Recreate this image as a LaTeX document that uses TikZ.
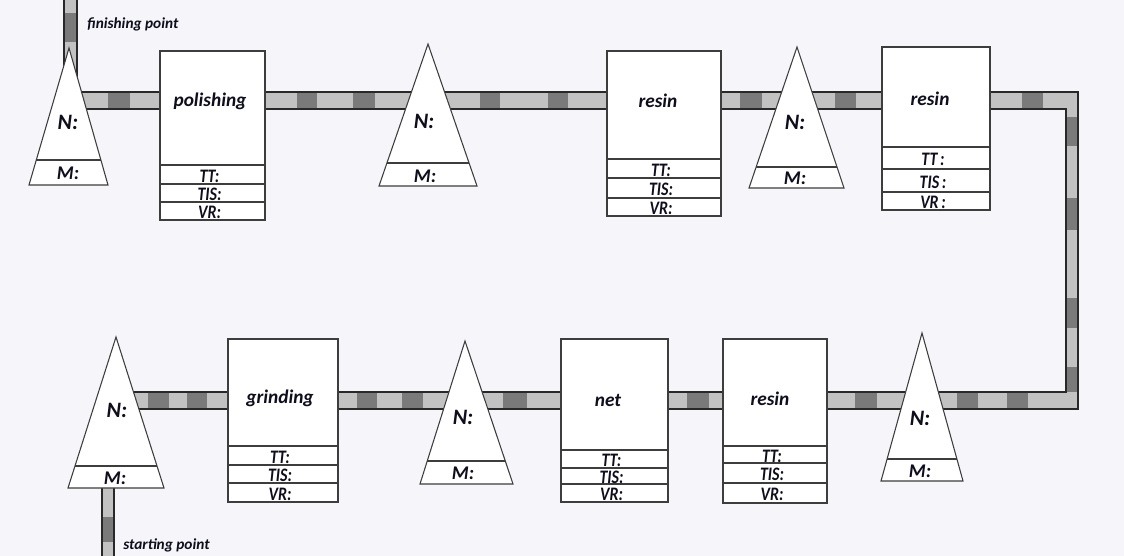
\documentclass[tikz,border=0pt]{standalone}
\usepackage{fontspec}
\setmainfont{Carlito}
\usetikzlibrary{calc}

\definecolor{bgcol}{RGB}{245,245,250}
\definecolor{pipelight}{RGB}{194,194,194}
\definecolor{pipedark}{RGB}{122,122,122}
\definecolor{edgecol}{RGB}{40,40,40}
\definecolor{inkcol}{RGB}{14,14,28}

\tikzset{
  pipeedge/.style={draw=edgecol, line width=0.9pt, line join=miter},
  boxline/.style={draw=edgecol!90, line width=0.8pt},
  cone/.style={draw=edgecol!90, line width=0.8pt, line join=miter},
  conefill/.style={fill=white},
  nlab/.style={text=inkcol, inner sep=0pt, font=\fontsize{16.5}{16.5}\selectfont\bfseries\itshape},
  mlab/.style={text=inkcol, inner sep=0pt, font=\fontsize{14.5}{14.5}\selectfont\bfseries\itshape},
  title/.style={text=inkcol, inner sep=0pt, font=\fontsize{14.5}{14.5}\selectfont\bfseries\itshape},
  rowlab/.style={text=inkcol, inner sep=0pt, text height=9.2pt, text depth=0pt,
    font=\fontsize{13}{13}\selectfont\bfseries\itshape},
  endlab/.style={text=inkcol, inner sep=0pt, anchor=west, font=\fontsize{11.5}{11.5}\selectfont\bfseries\itshape},
}

% vertically stretched lettering used inside the table rows
\newcommand\tallrow[1]{\scalebox{0.92}[1.1]{#1}}
\newcommand\colsep{}

% cone with a band at the bottom: name, apex x, apex y, base left x, base right x, base y, band y
\newcommand\conetri[7]{%
  \pgfmathsetmacro\tf{(#7-#3)/(#6-#3)}%
  \filldraw[cone, conefill] (#2,#3) -- (#5,#6) -- (#4,#6) -- cycle;
  \draw[cone] ($(#2,#3)!\tf!(#4,#6)$) -- ($(#2,#3)!\tf!(#5,#6)$);
}

% stage box with three rows: name, x1, y1, x2, y2, row lines d1, d2, d3
\newcommand\stagebox[8]{%
  \filldraw[boxline, fill=white] (#2,#3) rectangle (#4,#5);
  \draw[boxline] (#2,#6) -- (#4,#6) (#2,#7) -- (#4,#7) (#2,#8) -- (#4,#8);
  \pgfmathsetmacro\cx{(#2+#4)/2-3}%
  \node[rowlab] (#1-tt)  at (\cx,{(#6+#7)/2+1.5}) {\tallrow{TT\colsep:}};
  \node[rowlab] (#1-tis) at (\cx,{(#7+#8)/2+1.5}) {\tallrow{TIS\colsep:}};
  \node[rowlab] (#1-vr)  at (\cx,{(#8+#5)/2+1.5}) {\tallrow{VR\colsep:}};
}

\begin{document}
\begin{tikzpicture}[x=0.75pt, y=-0.75pt]
\useasboundingbox (0,0) rectangle (1124,556);
\fill[bgcol] (0,0) rectangle (1124,556);

% ---------------- conveyor line ----------------
\fill[pipelight] (64,0) -- (64,109) -- (1066,109) -- (1066,392) -- (102,392)
  -- (102,556) -- (114,556) -- (114,409) -- (1078,409) -- (1078,92)
  -- (77,92) -- (77,0) -- cycle;

% dark segments, top run
\foreach \a/\b in {108/130, 297/317, 353/375, 480/500, 548/568, 740/762, 835/856, 1022/1043}
  \fill[pipedark] (\a,92) rectangle (\b,109);
% dark segments, right run
\foreach \a/\b in {117/146, 198/230, 298/328, 367/392}
  \fill[pipedark] (1066,\a) rectangle (1078,\b);
% dark segments, bottom run
\foreach \a/\b in {148/169, 187/207, 357/377, 402/423, 503/527, 687/709, 855/877, 957/978, 1007/1028}
  \fill[pipedark] (\a,392) rectangle (\b,409);
% dark segments, entry and exit legs
\fill[pipedark] (102,517) rectangle (114,542);
\fill[pipedark] (64,13) rectangle (77,42);

\draw[pipeedge] (64,0) -- (64,109) -- (1066,109) -- (1066,392) -- (102,392) -- (102,556);
\draw[pipeedge] (77,0) -- (77,92) -- (1078,92) -- (1078,409) -- (114,409) -- (114,556);

\node[endlab] (finish) at (87,24) {finishing point};
\node[endlab] (start) at (123,545) {starting point};

% ---------------- top row ----------------
\conetri{c1}{69}{48}{29}{108}{185}{160}
\node[nlab] (c1-n) at (68,122) {N:};
\node[mlab] (c1-m) at (68,173) {M:};

\stagebox{b1}{160}{51}{265}{220}{165}{184}{202}
\node[title] (b1-title) at (210,101) {polishing};

\conetri{c2}{428}{44}{379}{477}{186}{163}
\node[nlab] (c2-n) at (424,121) {N:};
\node[mlab] (c2-m) at (425,176) {M:};

\stagebox{b2}{607}{51}{721}{216}{159}{178}{198}
\node[title] (b2-title) at (658,101) {resin};

\conetri{c3}{797}{47}{749}{844}{188}{167}
\node[nlab] (c3-n) at (795,122) {N:};
\node[mlab] (c3-m) at (795,178) {M:};

\renewcommand\colsep{\,}
\stagebox{b3}{882}{47}{990}{210}{147}{169}{192}
\renewcommand\colsep{}
\node[title] (b3-title) at (930,99) {resin};

% ---------------- bottom row ----------------
\conetri{c4}{116}{337}{68}{164}{488}{466}
\node[nlab] (c4-n) at (117,410) {N:};
\node[mlab] (c4-m) at (115,478) {M:};

\stagebox{b4}{228}{339}{338}{502}{446}{465}{483}
\node[title] (b4-title) at (280,398) {grinding};

\conetri{c5}{465}{341}{420}{513}{484}{461}
\node[nlab] (c5-n) at (463,417) {N:};
\node[mlab] (c5-m) at (463,473) {M:};

\stagebox{b5}{561}{339}{668}{502}{450}{468}{484}
\node[title] (b5-title) at (608,400) {net};

\stagebox{b6}{723}{339}{827}{503}{446}{463}{483}
\node[title] (b6-title) at (770,399) {resin};

\conetri{c6}{922}{333}{881}{963}{481}{459}
\node[nlab] (c6-n) at (920,418) {N:};
\node[mlab] (c6-m) at (920,471) {M:};
\end{tikzpicture}
\end{document}
